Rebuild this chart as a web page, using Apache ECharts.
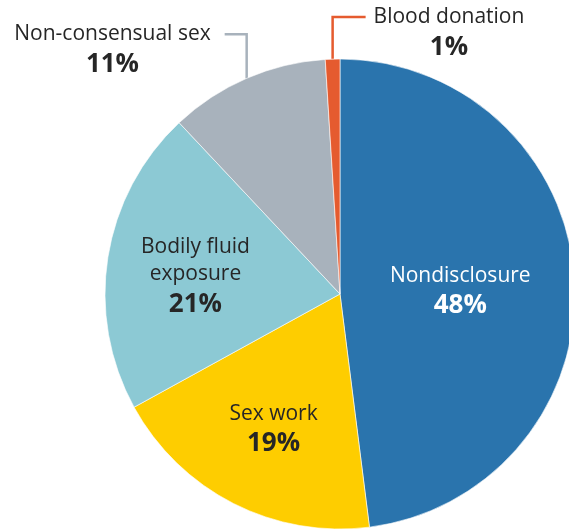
<!DOCTYPE html>
<html>
<head>
<meta charset="utf-8">
<script src="https://cdn.jsdelivr.net/npm/echarts@6/dist/echarts.min.js"></script>
<style>
html,body{margin:0;padding:0;background:#fff;}
#chart{width:569px;height:531px;}
</style>
</head>
<body>
<div id="chart"></div>
<script>
// Data
const categories = ['Nondisclosure', 'Sex work', 'Bodily fluid\nexposure', 'Non-consensual sex', 'Blood donation'];
const shares = [48, 19, 21, 11, 1];

// Styles
const sliceColors = ['#2A74AD', '#FECD00', '#8CC9D4', '#A8B2BC', '#E55B2F'];
const labelMode = ['near', 'far', 'far', 'outer', 'outer'];
const labelTextColor = ['#ffffff', '#262626', '#262626', '#262626', '#262626'];
const outerSide = [0, 0, 0, -1, 1];
const outerRise = [0, 0, 0, 44, 42];
const outerRun = [0, 0, 0, 22, 33];
const outerGap = [0, 0, 0, 14, 8];

const FONT = '"Open Sans", "Noto Sans", sans-serif';
function richFor(color) {
  return {
    n: { fontFamily: FONT, fontSize: 21, color: color, lineHeight: 27, align: 'center' },
    p: { fontFamily: FONT, fontSize: 26, fontWeight: 'bold', color: color, lineHeight: 33, align: 'center' }
  };
}

const CENTER = [340, 294];
const R = 235;

const mainData = categories.map((name, i) => {
  const mode = labelMode[i];
  const item = { name: name, value: shares[i], itemStyle: { color: sliceColors[i] } };
  if (mode === 'near') {
    item.label = { show: true, position: 'inside', padding: [12, 0, 0, 0], rich: richFor(labelTextColor[i]) };
  } else if (mode === 'outer') {
    item.label = { show: true, position: 'outside', rich: richFor(labelTextColor[i]) };
    item.labelLine = { show: true, lineStyle: { color: sliceColors[i], width: 2.5 } };
  } else {
    item.label = { show: false };
    item.labelLine = { show: false };
  }
  return item;
});

const overlayData = categories.map((name, i) => {
  const mode = labelMode[i];
  return {
    name: name, value: shares[i],
    label: mode === 'far'
      ? { show: true, position: 'inside', padding: [12, 0, 0, 0], rich: richFor(labelTextColor[i]) }
      : { show: false }
  };
});

const chart = echarts.init(document.getElementById('chart'), null, { renderer: 'canvas' });
chart.setOption({
  animation: false,
  backgroundColor: '#ffffff',
  series: [
    {
      type: 'pie',
      center: CENTER,
      radius: [0, R],
      startAngle: 90,
      clockwise: true,
      avoidLabelOverlap: false,
      silent: true,
      itemStyle: { borderColor: '#ffffff', borderWidth: 0.6 },
      label: { formatter: '{n|{b}}\n{p|{c}%}' },
      labelLine: { length: 20, length2: 20, smooth: false },
      emphasis: { disabled: true },
      data: mainData,
      labelLayout: function (params) {
        const i = params.dataIndex;
        if (labelMode[i] !== 'outer' || !params.labelLinePoints) return {};
        const e = params.labelLinePoints[0];
        const side = outerSide[i];
        const ly = e[1] - outerRise[i];
        const lx = e[0] + side * outerRun[i];
        return {
          x: lx + side * outerGap[i],
          y: ly - 13.5,
          align: side > 0 ? 'left' : 'right',
          verticalAlign: 'top',
          labelLinePoints: [[e[0], e[1]], [e[0], ly], [lx, ly]]
        };
      }
    },
    {
      type: 'pie',
      center: CENTER,
      radius: [0, R * 1.22],
      startAngle: 90,
      clockwise: true,
      avoidLabelOverlap: false,
      silent: true,
      z: 5,
      itemStyle: { color: 'rgba(0,0,0,0)', borderWidth: 0 },
      label: { formatter: '{n|{b}}\n{p|{c}%}' },
      labelLine: { show: false },
      emphasis: { disabled: true },
      data: overlayData
    }
  ]
});
</script>
</body>
</html>
